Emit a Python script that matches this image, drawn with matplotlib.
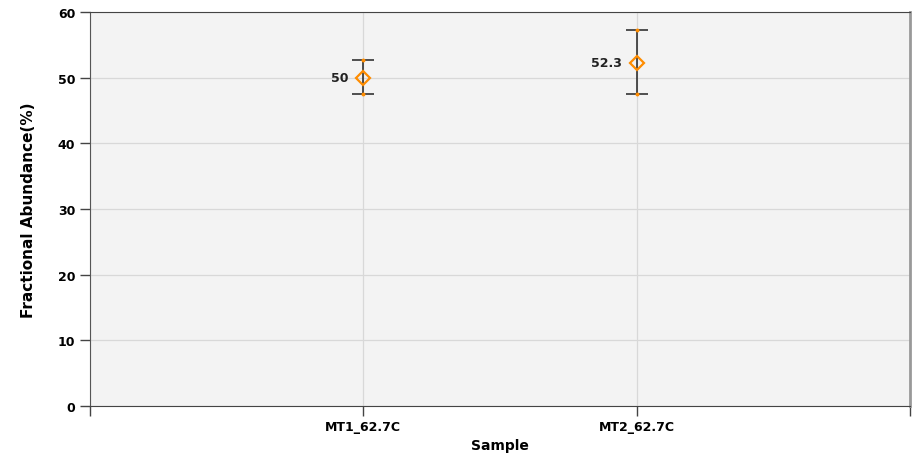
import numpy as np
import matplotlib.pyplot as plt

# Data
samples = ['MT1_62.7C', 'MT2_62.7C']
values = [50.0, 52.3]
err_low = [2.5, 4.8]
err_high = [2.7, 5.0]
value_labels = ['50', '52.3']

W, H = 916, 456
fig = plt.figure(figsize=(W / 100, H / 100), dpi=100)
ax = fig.add_axes([90 / W, 1 - 407 / H, 820 / W, 394 / H])
ax.set_facecolor('#f3f3f3')

x = np.arange(1, len(samples) + 1)
ax.errorbar(x, values, yerr=[err_low, err_high], fmt='none', ecolor='#222222',
            elinewidth=1.1, capsize=8, capthick=1.1, zorder=3)
ax.plot(x, values, linestyle='none', marker='D', markersize=7, markerfacecolor='none',
        markeredgecolor='#ff8c00', markeredgewidth=1.6, zorder=4)
# small orange dots at the cap ends
ax.plot(x, np.array(values) + np.array(err_high), linestyle='none', marker='o',
        markersize=1.8, color='#ff8c00', zorder=5)
ax.plot(x, np.array(values) - np.array(err_low), linestyle='none', marker='o',
        markersize=1.8, color='#ff8c00', zorder=5)

for xi, v, lab in zip(x, values, value_labels):
    ax.annotate(lab, (xi, v), xytext=(-11, 0), textcoords='offset points',
                ha='right', va='center', fontsize=9, fontweight='bold', color='#222222')

ax.set_xlim(0, 3)
ax.set_ylim(0, 60)
ax.set_xticks([0, 1, 2, 3])
ax.set_xticklabels(['', samples[0], samples[1], ''])
ax.set_yticks(np.arange(0, 61, 10))
ax.grid(True, color='#d8d8d8', linewidth=0.9, zorder=0)
ax.set_axisbelow(True)

for lab in ax.get_xticklabels() + ax.get_yticklabels():
    lab.set_fontweight('bold')
    lab.set_fontsize(9)
ax.tick_params(axis='both', length=7, width=1, color='#444444')
ax.tick_params(axis='x', pad=3)

ax.spines['left'].set_color('#555555')
ax.spines['bottom'].set_color('#444444')
ax.spines['top'].set_color('#444444')
ax.spines['right'].set_color('#999999')
ax.spines['right'].set_linewidth(2)

ax.set_xlabel('Sample', fontsize=10, fontweight='bold', labelpad=4)
ax.set_ylabel('Fractional Abundance(%)', fontsize=11, fontweight='bold', labelpad=16)

fig.savefig('out.png', dpi=100)
